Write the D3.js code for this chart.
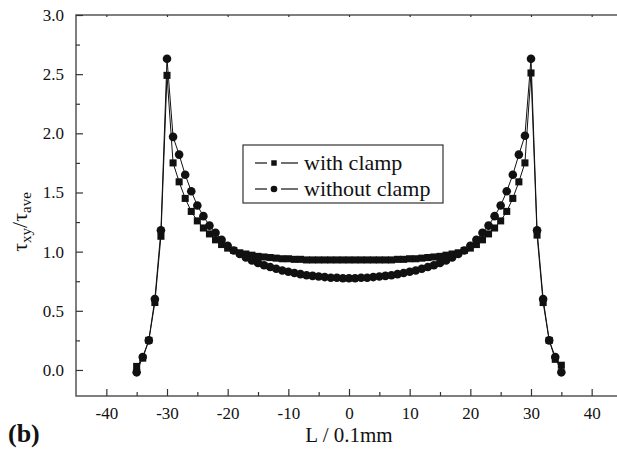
<!DOCTYPE html>
<html>
<head>
<meta charset="utf-8">
<script src="https://cdn.jsdelivr.net/npm/d3@7"></script>
<style>
  body { margin: 0; background: #fff; }
  svg { display: block; font-family: "Liberation Serif", "Times New Roman", serif; }
  .axis path.domain { display: none; }
  .axis line { stroke: #333; stroke-width: 1.2; }
  .axis text { font-family: "Liberation Serif", serif; font-size: 17px; fill: #111; }
</style>
</head>
<body>
<svg id="chart" width="617" height="451"></svg>
<script>
// L / 0.1mm positions of the computed points
let positions = [-35,-34,-33,-32,-31,-30,-29,-28,-27,-26,-25,-24,-23,-22,-21,-20,-19,-18,-17,-16,-15,-14,-13,-12,-11,-10,-9,-8,-7,-6,-5,-4,-3,-2,-1,
                 0,1,2,3,4,5,6,7,8,9,10,11,12,13,14,15,16,17,18,19,20,21,22,23,24,25,26,27,28,29,30,31,32,33,34,35];

// tau_xy / tau_ave, with clamp (squares)
let withClamp = [0.03,0.10,0.25,0.57,1.13,2.49,1.75,1.59,1.45,1.34,1.26,1.20,1.15,1.10,1.06,1.03,1.01,0.99,0.98,0.97,0.96,0.955,0.95,0.945,0.94,0.94,0.935,0.935,0.93,0.93,0.93,0.93,0.93,0.93,0.93,
                 0.93,0.93,0.93,0.93,0.93,0.93,0.93,0.93,0.935,0.935,0.94,0.94,0.945,0.95,0.955,0.96,0.97,0.98,0.99,1.01,1.03,1.06,1.10,1.15,1.20,1.26,1.34,1.45,1.59,1.75,2.51,1.14,0.57,0.25,0.09,0.04];

// tau_xy / tau_ave, without clamp (circles)
let withoutClamp = [-0.02,0.11,0.25,0.60,1.18,2.63,1.97,1.82,1.65,1.51,1.39,1.30,1.22,1.16,1.10,1.05,1.01,0.98,0.95,0.925,0.905,0.885,0.87,0.855,0.84,0.83,0.82,0.81,0.80,0.795,0.79,0.785,0.78,0.78,0.775,
                    0.775,0.775,0.78,0.78,0.785,0.79,0.795,0.80,0.81,0.82,0.83,0.84,0.855,0.87,0.885,0.905,0.925,0.95,0.98,1.01,1.05,1.10,1.16,1.22,1.30,1.39,1.51,1.65,1.82,1.98,2.63,1.18,0.60,0.25,0.11,-0.02];

let seriesNames = ["with clamp", "without clamp"];
let xTicks = [-40,-30,-20,-10,0,10,20,30,40];
let xMinor = [-35,-25,-15,-5,5,15,25,35];
let yTicks = [0.0,0.5,1.0,1.5,2.0,2.5,3.0];
let yMinor = [0.25,0.75,1.25,1.75,2.25,2.75];

let series = [
    {name: seriesNames[0], values: withClamp, shape: d3.symbolSquare, size: 50},
    {name: seriesNames[1], values: withoutClamp, shape: d3.symbolCircle, size: 58}
];

let svg = d3.select("#chart");

let x = d3.scaleLinear().domain([-45, 45]).range([76, 622]);
let y = d3.scaleLinear().domain([-0.22, 3.0]).range([396, 15]);

// frame
svg.append("rect")
    .attr("x", x(-45)).attr("y", y(3))
    .attr("width", x(45) - x(-45)).attr("height", y(-0.22) - y(3))
    .attr("fill", "none").attr("stroke", "#555").attr("stroke-width", 1.5);

// plain hyphen for negatives, like the original
let hyphen = function(d) { return String(d); };

// bottom axis, ticks pointing in
svg.append("g").attr("class", "axis")
    .attr("transform", "translate(0," + y(-0.22) + ")")
    .call(d3.axisBottom(x).tickValues(xTicks).tickSizeInner(-7).tickSizeOuter(0).tickPadding(11)
        .tickFormat(hyphen));
svg.append("g").attr("class", "axis")
    .attr("transform", "translate(0," + y(-0.22) + ")")
    .call(d3.axisBottom(x).tickValues(xMinor).tickSizeInner(-4).tickSizeOuter(0).tickFormat(""));
// top axis small ticks
svg.append("g").attr("class", "axis")
    .attr("transform", "translate(0," + y(3) + ")")
    .call(d3.axisTop(x).tickValues(xTicks).tickSizeInner(-2).tickSizeOuter(0).tickFormat(""));

// left axis
svg.append("g").attr("class", "axis")
    .attr("transform", "translate(" + x(-45) + ",0)")
    .call(d3.axisLeft(y).tickValues(yTicks).tickSizeInner(-7).tickSizeOuter(0).tickPadding(12)
        .tickFormat(d3.format(".1f")));
svg.append("g").attr("class", "axis")
    .attr("transform", "translate(" + x(-45) + ",0)")
    .call(d3.axisLeft(y).tickValues(yMinor).tickSizeInner(-4).tickSizeOuter(0).tickFormat(""));

// lines + markers
let line = d3.line()
    .x(function(d, i) { return x(positions[i]); })
    .y(function(d) { return y(d); });

series.forEach(function(s) {
    svg.append("path")
        .datum(s.values)
        .attr("d", line)
        .attr("fill", "none")
        .attr("stroke", "#111")
        .attr("stroke-width", 1);
});

series.forEach(function(s) {
    svg.append("g").selectAll("path")
        .data(s.values)
        .enter().append("path")
        .attr("transform", function(d, i) { return "translate(" + x(positions[i]) + "," + y(d) + ")"; })
        .attr("d", d3.symbol().type(s.shape).size(s.size))
        .attr("fill", "#111");
});

// legend
let legend = svg.append("g").attr("transform", "translate(243,145)");
legend.append("rect")
    .attr("width", 200).attr("height", 58)
    .attr("fill", "#fff").attr("stroke", "#333").attr("stroke-width", 1.2);

series.forEach(function(s, i) {
    let row = legend.append("g").attr("transform", "translate(0," + (18 + i * 26) + ")");
    row.append("line").attr("x1", 12).attr("x2", 24).attr("y1", 0).attr("y2", 0)
        .attr("stroke", "#111").attr("stroke-width", 1.2);
    row.append("line").attr("x1", 38).attr("x2", 55).attr("y1", 0).attr("y2", 0)
        .attr("stroke", "#111").attr("stroke-width", 1.2);
    row.append("path")
        .attr("transform", "translate(31,0)")
        .attr("d", d3.symbol().type(s.shape).size(s.size * 0.6))
        .attr("fill", "#111");
    row.append("text")
        .attr("x", 61).attr("y", 7)
        .attr("font-size", 22)
        .attr("fill", "#111")
        .text(s.name);
});

// axis titles
svg.append("text")
    .attr("x", x(0)).attr("y", 442)
    .attr("text-anchor", "middle")
    .attr("font-size", 21)
    .attr("fill", "#111")
    .text("L / 0.1mm");

let ytitle = svg.append("text")
    .attr("transform", "translate(27,222) rotate(-90)")
    .attr("text-anchor", "middle")
    .attr("font-size", 22)
    .attr("fill", "#111");
ytitle.append("tspan").text("τ");
ytitle.append("tspan").attr("font-size", 15).attr("dy", 4).text("xy");
ytitle.append("tspan").attr("dy", -4).text("/τ");
ytitle.append("tspan").attr("font-size", 15).attr("dy", 4).text("ave");

svg.append("text")
    .attr("x", 8).attr("y", 442)
    .attr("font-size", 26)
    .attr("font-weight", "bold")
    .attr("fill", "#111")
    .text("(b)");
</script>
</body>
</html>
